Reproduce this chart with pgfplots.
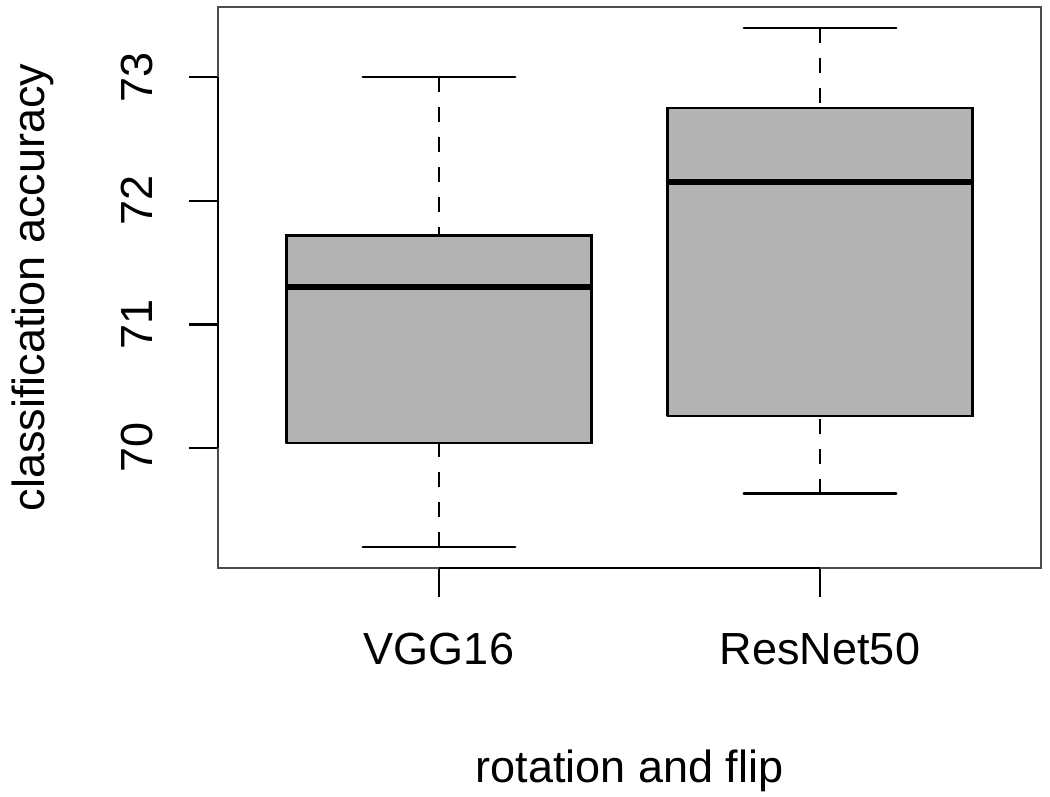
\documentclass[border=0pt]{standalone}
\usepackage{fontspec}
\setmainfont{Liberation Sans}
\usepackage{pgfplots}
\pgfplotsset{compat=1.18}
\definecolor{boxgray}{RGB}{179,179,179}
\begin{document}
\begin{tikzpicture}
\useasboundingbox (-109pt,-114.5pt) rectangle (416pt,284pt);
\begin{axis}[
    scale only axis,
    width=411.5pt, height=280.5pt,
    xmin=0.42, xmax=2.58,
    ymin=69.028, ymax=73.568,
    xtick={1,2}, xticklabels={VGG16,ResNet50},
    ytick={70,71,72,73},
    xtick pos=left, ytick pos=left,
    tick align=outside,
    major tick length=14.5pt,
    tick style={black, line width=1.2pt},
    axis line style={black!70, line width=1.2pt},
    clip=false,
    font=\fontsize{22.5}{27}\selectfont,
    tick label style={font=\fontsize{22.5}{27}\selectfont},
    /pgf/number format/assume math mode=true,
    yticklabel style={rotate=90, anchor=south, inner sep=0pt, yshift=18pt},
    xticklabel style={anchor=north, inner sep=0pt, yshift=-18pt},
    xlabel={rotation and flip},
    ylabel={classification accuracy},
    xlabel style={at={(axis description cs:0.5,-0.3815)}, anchor=base, inner sep=0pt},
    ylabel style={at={(axis description cs:-0.2114,0.5)}, anchor=base, inner sep=0pt},
    boxline/.style={black, line width=1.2pt, line cap=round},
    whisk/.style={boxline, dash pattern=on 7.5pt off 7.5pt, line cap=butt},
]
% VGG16: whiskers 69.20 / 73.00, quartiles 70.04 / 71.72, median 71.30
\addplot[whisk] coordinates {(1,73.00) (1,71.72)};
\addplot[whisk] coordinates {(1,69.20) (1,70.04)};
\addplot[boxline] coordinates {(0.8,73.00) (1.2,73.00)};
\addplot[boxline] coordinates {(0.8,69.20) (1.2,69.20)};
\addplot[boxline, fill=boxgray] coordinates {(0.6,70.04) (1.4,70.04) (1.4,71.72) (0.6,71.72) (0.6,70.04)};
\addplot[black, line width=3.2pt] coordinates {(0.6,71.30) (1.4,71.30)};
% ResNet50: whiskers 69.63 / 73.40, quartiles 70.26 / 72.75, median 72.15
\addplot[whisk] coordinates {(2,73.40) (2,72.75)};
\addplot[whisk] coordinates {(2,69.63) (2,70.26)};
\addplot[boxline] coordinates {(1.8,73.40) (2.2,73.40)};
\addplot[boxline] coordinates {(1.8,69.63) (2.2,69.63)};
\addplot[boxline, fill=boxgray] coordinates {(1.6,70.26) (2.4,70.26) (2.4,72.75) (1.6,72.75) (1.6,70.26)};
\addplot[black, line width=3.2pt] coordinates {(1.6,72.15) (2.4,72.15)};
% axis lines drawn over the frame, as R does
\draw[black, line width=1.2pt] (axis cs:1,69.028) -- (axis cs:2,69.028);
\draw[black, line width=1.2pt] (axis cs:0.42,70) -- (axis cs:0.42,73);
\end{axis}
\end{tikzpicture}
\end{document}
